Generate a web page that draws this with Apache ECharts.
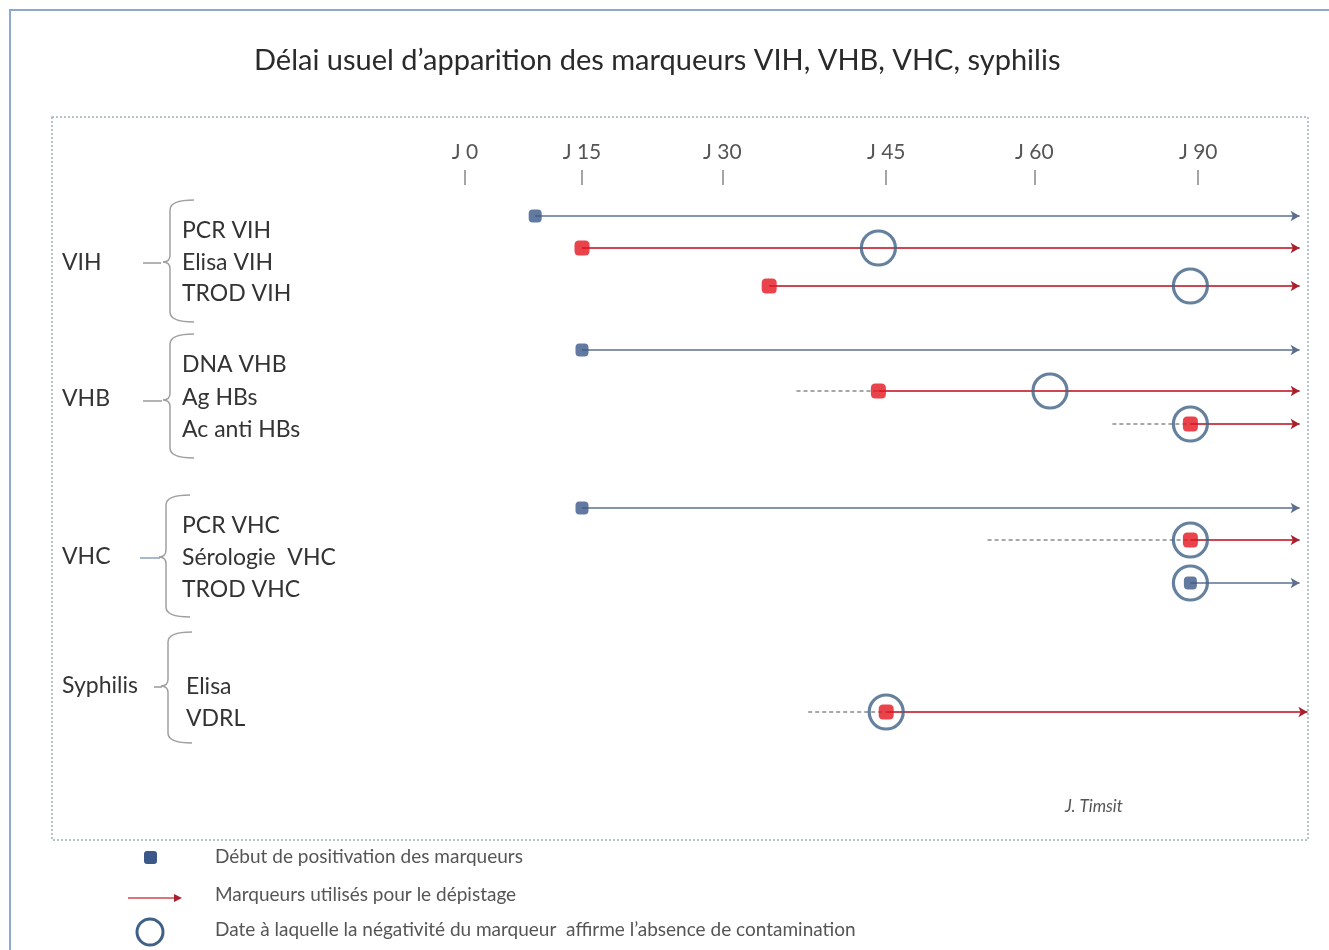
<!DOCTYPE html>
<html>
<head>
<meta charset="utf-8">
<script src="https://cdn.jsdelivr.net/npm/echarts@6/dist/echarts.min.js"></script>
<style>
  html, body { margin: 0; padding: 0; background: #fff; }
  #chart { width: 1329px; height: 950px; }
</style>
</head>
<body>
<div id="chart"></div>
<script>
// ---------- DATA ----------
const tickPos = [0, 15, 33, 54, 73, 94];
const tickLabels = ['J 0', 'J 15', 'J 30', 'J 45', 'J 60', 'J 90'];

const groupNames = ['VIH', 'VHB', 'VHC', 'Syphilis'];
const groupTests = [
  ['PCR VIH', 'Elisa VIH', 'TROD VIH'],
  ['DNA VHB', 'Ag HBs', 'Ac anti HBs'],
  ['PCR VHC', 'Sérologie  VHC', 'TROD VHC'],
  ['Elisa', 'VDRL']
];

const rowNames = ['PCR VIH', 'Elisa VIH', 'TROD VIH', 'DNA VHB', 'Ag HBs', 'Ac anti HBs',
                  'PCR VHC', 'Sérologie VHC', 'TROD VHC', 'Syphilis Elisa/VDRL'];
const rowKind = ['debut', 'depistage', 'depistage', 'debut', 'depistage', 'depistage',
                 'debut', 'depistage', 'debut', 'depistage'];
const positivation = [9, 15, 39, 15, 53, 93, 15, 93, 93, 54];
const negativite = [null, 53, 93, null, 75, 93, null, 93, 93, 54];
const dashedFrom = [null, null, null, null, 42.5, 83, null, 67, null, 44];
const arrowEnd = [107, 107, 107, 107, 107, 107, 107, 107, 107, 108];

const legendTexts = [
  'Début de positivation des marqueurs',
  'Marqueurs utilisés pour le dépistage',
  'Date à laquelle la négativité du marqueur  affirme l\u2019absence de contamination'
];
const titleText = 'Délai usuel d\u2019apparition des marqueurs VIH, VHB, VHC, syphilis';
const authorText = 'J. Timsit';

// ---------- LAYOUT ----------
const rowY = [31, 63, 101, 165, 206, 239, 323, 355, 398, 527]; // vertical slot of each row (axis units)
const groupLabelY = [263, 399, 557, 686];
const testLabelY = [[231, 263, 294], [365, 398, 430], [526, 558, 590], [687, 719]];
const braces = [
  { x: 170, top: 200, mid: 262, bottom: 322, dash: [143, 161] },
  { x: 170, top: 334, mid: 400, bottom: 458, dash: [143, 162] },
  { x: 166, top: 495, mid: 557, bottom: 617, dash: [140, 160] },
  { x: 168, top: 632, mid: 686, bottom: 743, dash: [154, 162] }
];

const COL = {
  blueMark: '#3b5888',
  redMark: '#e3141f',
  blueLine: '#8394ac',
  redLine: '#cf4653',
  blueArrow: '#5b6f8c',
  redArrow: '#a8202c',
  circle: '#3f6186',
  dash: '#8a8a8a',
  text: '#333'
};
const FONT = 'Lato, "Open Sans", sans-serif';

// ---------- SERIES ----------
const series = [];
rowNames.forEach((name, i) => {
  const blue = rowKind[i] === 'debut';
  series.push({
    type: 'line',
    name: name,
    silent: true,
    z: 2,
    lineStyle: { color: blue ? COL.blueLine : COL.redLine, width: 2 },
    itemStyle: { color: blue ? COL.blueArrow : COL.redArrow },
    data: [
      { value: [positivation[i], rowY[i]], symbol: 'none' },
      { value: [arrowEnd[i], rowY[i]], symbol: 'arrow', symbolSize: [8, 9], symbolRotate: -90 }
    ],
    animation: false
  });
  if (dashedFrom[i] != null) {
    series.push({
      type: 'line',
      silent: true,
      z: 2,
      symbol: 'none',
      lineStyle: { color: COL.dash, width: 1.5, type: [4, 3] },
      data: [[dashedFrom[i], rowY[i]], [positivation[i], rowY[i]]],
      animation: false
    });
  }
});

// circles (negativity date)
series.push({
  type: 'scatter',
  silent: true,
  z: 3,
  symbol: 'circle',
  symbolSize: 34,
  itemStyle: { color: 'rgba(255,255,255,0)', borderColor: COL.circle, borderWidth: 3.2 },
  data: negativite.map((v, i) => v == null ? null : [v, rowY[i]]).filter(d => d),
  animation: false
});

// positivation markers
const markerPath = 'path://M3,0 L7,0 Q10,0 10,3 L10,7 Q10,10 7,10 L3,10 Q0,10 0,7 L0,3 Q0,0 3,0 Z';
series.push({
  type: 'scatter',
  silent: true,
  z: 4,
  symbol: markerPath,
  symbolSize: 13,
  itemStyle: { color: COL.blueMark },
  data: positivation.map((v, i) => rowKind[i] === 'debut' ? [v, rowY[i]] : null).filter(d => d),
  animation: false
});
series.push({
  type: 'scatter',
  silent: true,
  z: 4,
  symbol: markerPath,
  symbolSize: 15,
  itemStyle: { color: COL.redMark },
  data: positivation.map((v, i) => rowKind[i] === 'depistage' ? [v, rowY[i]] : null).filter(d => d),
  animation: false
});

// ---------- GRAPHICS (labels, braces, frames, legend) ----------
const graphics = [];
// outer frame
graphics.push({ type: 'rect', shape: { x: 10, y: 10, width: 1340, height: 960 },
  style: { fill: 'none', stroke: '#8ea7cf', lineWidth: 2 }, z: 0 });
// inner dotted frame
graphics.push({ type: 'rect', shape: { x: 52, y: 117, width: 1256, height: 723 },
  style: { fill: 'none', stroke: '#9fb1b4', lineWidth: 1.5, lineDash: [2, 2] }, z: 0 });

const braceStyle = { fill: 'none', stroke: '#a0a0a0', lineWidth: 1.5 };
function bez(x1, y1, cx, cy, x2, y2) {
  return { type: 'bezierCurve', z: 5, shape: { x1, y1, x2, y2, cpx1: cx, cpy1: cy }, style: braceStyle };
}
function seg(x1, y1, x2, y2) {
  return { type: 'line', z: 5, shape: { x1, y1, x2, y2 }, style: braceStyle };
}

groupNames.forEach((g, gi) => {
  graphics.push({ type: 'text', z: 5, style: { text: g, x: 62, y: groupLabelY[gi], font: '23px ' + FONT,
    fill: COL.text, textAlign: 'left', textVerticalAlign: 'middle' } });
  const b = braces[gi];
  graphics.push({ type: 'line', z: 5, shape: { x1: b.dash[0], y1: b.mid + 1, x2: b.dash[1], y2: b.mid + 1 },
    style: { stroke: gi === 2 ? '#8aa0b8' : '#999', lineWidth: 1.5 } });
  const x = b.x;
  graphics.push(bez(x + 24, b.top, x, b.top, x, b.top + 10));
  graphics.push(seg(x, b.top + 10, x, b.mid - 7));
  graphics.push(bez(x, b.mid - 7, x, b.mid, x - 7, b.mid));
  graphics.push(bez(x - 7, b.mid, x, b.mid, x, b.mid + 7));
  graphics.push(seg(x, b.mid + 7, x, b.bottom - 10));
  graphics.push(bez(x, b.bottom - 10, x, b.bottom, x + 24, b.bottom));
  groupTests[gi].forEach((t, ti) => {
    graphics.push({ type: 'text', z: 5, style: { text: t, x: gi === 3 ? 186 : 182, y: testLabelY[gi][ti],
      font: '23px ' + FONT, fill: COL.text, textAlign: 'left', textVerticalAlign: 'middle' } });
  });
});

// author
graphics.push({ type: 'text', z: 5, style: { text: authorText, x: 1065, y: 807, font: 'italic 17px ' + FONT,
  fill: '#555', textAlign: 'left', textVerticalAlign: 'middle' } });

// legend
graphics.push({ type: 'rect', z: 5, shape: { x: 144, y: 851, width: 13, height: 13, r: 3 },
  style: { fill: COL.blueMark } });
graphics.push({ type: 'line', z: 5, shape: { x1: 128, y1: 898, x2: 176, y2: 898 },
  style: { stroke: COL.redLine, lineWidth: 1.5 } });
graphics.push({ type: 'polygon', z: 5, shape: { points: [[174, 894], [182, 898], [174, 902]] },
  style: { fill: COL.redArrow } });
graphics.push({ type: 'circle', z: 5, shape: { cx: 150, cy: 932, r: 13 },
  style: { fill: 'none', stroke: COL.circle, lineWidth: 3 } });
const legendY = [857, 895, 930];
legendTexts.forEach((t, i) => {
  graphics.push({ type: 'text', z: 5, style: { text: t, x: 215, y: legendY[i], font: '19px ' + FONT,
    fill: '#555', textAlign: 'left', textVerticalAlign: 'middle' } });
});

// ---------- CHART ----------
const chart = echarts.init(document.getElementById('chart'), null, { renderer: 'canvas' });
chart.setOption({
  animation: false,
  backgroundColor: '#fff',
  title: {
    text: titleText,
    left: 249,
    top: 41,
    textStyle: { fontFamily: FONT, fontSize: 29, fontWeight: 'normal', color: '#2a2a2a' }
  },
  grid: { left: 465, top: 185, width: 842.4, height: 535, containLabel: false },
  xAxis: {
    type: 'value',
    position: 'top',
    min: 0,
    max: 108,
    splitLine: { show: false },
    axisLine: { show: false },
    axisTick: { show: true, length: 15, customValues: tickPos, lineStyle: { color: '#888', width: 1.5 } },
    axisLabel: {
      show: true,
      customValues: tickPos,
      margin: 22,
      fontFamily: FONT,
      fontSize: 21,
      color: '#555',
      formatter: (v) => { const k = tickPos.indexOf(v); return k >= 0 ? tickLabels[k] : ''; }
    }
  },
  yAxis: {
    type: 'value',
    inverse: true,
    min: 0,
    max: 535,
    show: false
  },
  series: series,
  graphic: { elements: graphics }
});
</script>
</body>
</html>
